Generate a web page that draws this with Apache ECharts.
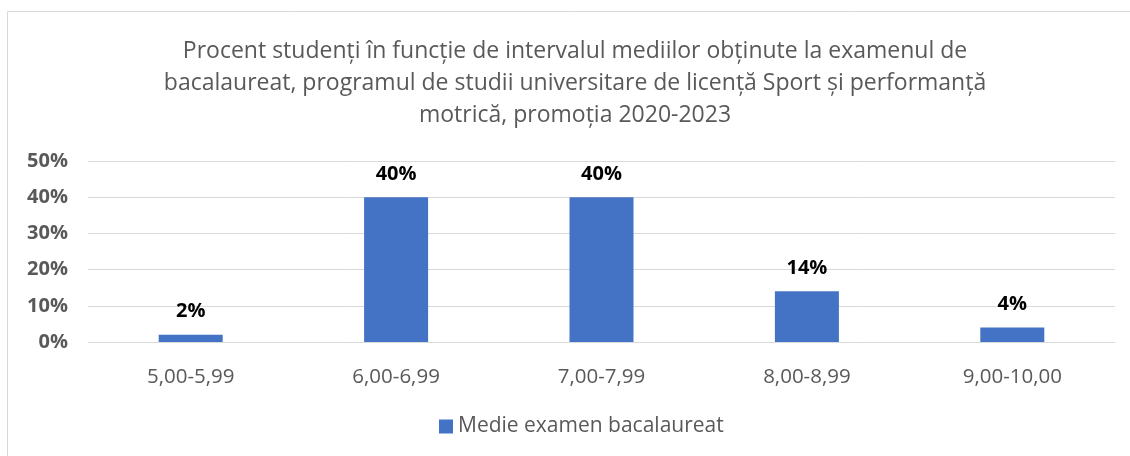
<!DOCTYPE html>
<html><head><meta charset="utf-8">
<script src="https://cdn.jsdelivr.net/npm/echarts@6/dist/echarts.min.js"></script>
<style>html,body{margin:0;padding:0;background:#fff}#c{width:1130px;height:456px}</style>
</head><body><div id="c"></div>
<script>
const categories = ['5,00-5,99','6,00-6,99','7,00-7,99','8,00-8,99','9,00-10,00'];
const values = [2, 40, 40, 14, 4];
const seriesName = 'Medie examen bacalaureat';
const titleText = 'Procent studenți în funcție de intervalul mediilor obținute la examenul de\nbacalaureat, programul de studii universitare de licență Sport și performanță\nmotrică, promoția 2020-2023';

const chart = echarts.init(document.getElementById('c'));
const font = 'Open Sans, sans-serif';
chart.setOption({
  backgroundColor: '#fff',
  animation: false,
  graphic: [{type:'rect', shape:{x:7.5,y:11.5,width:1140,height:460}, style:{fill:'none', stroke:'#d9d9d9', lineWidth:1}, silent:true}],
  title: {text: titleText, left: 570, textAlign: 'center', top: 30,
    textStyle:{fontFamily:font, fontSize:23, fontWeight:'normal', color:'#595959', lineHeight:32}},
  legend: {bottom: 14, left: 434, itemWidth: 14, itemHeight: 14, icon:'rect', itemGap: 6,
    textStyle:{fontFamily:font, fontSize:21, color:'#595959'}},
  grid: {left: 88, right: 15, top: 161, bottom: 114, containLabel:false},
  xAxis: {type:'category', data: categories,
    axisLine:{show:false}, axisTick:{show:false},
    axisLabel:{fontFamily:font, fontSize:20.5, color:'#595959', margin:25}},
  yAxis: {type:'value', min:0, max:50, interval:10,
    axisLabel:{formatter:'{value}%', fontFamily:font, fontSize:20, fontWeight:'bold', color:'#595959', margin:20},
    splitLine:{lineStyle:{color:'#d9d9d9', width:1}}},
  series: [{name: seriesName, type:'bar', data: values, barWidth: 64,
    itemStyle:{color:'#4472c4'},
    label:{show:true, position:'top', distance:13, formatter:'{c}%', fontFamily:font, fontSize:20, fontWeight:'bold', color:'#000'}}]
});
</script></body></html>
